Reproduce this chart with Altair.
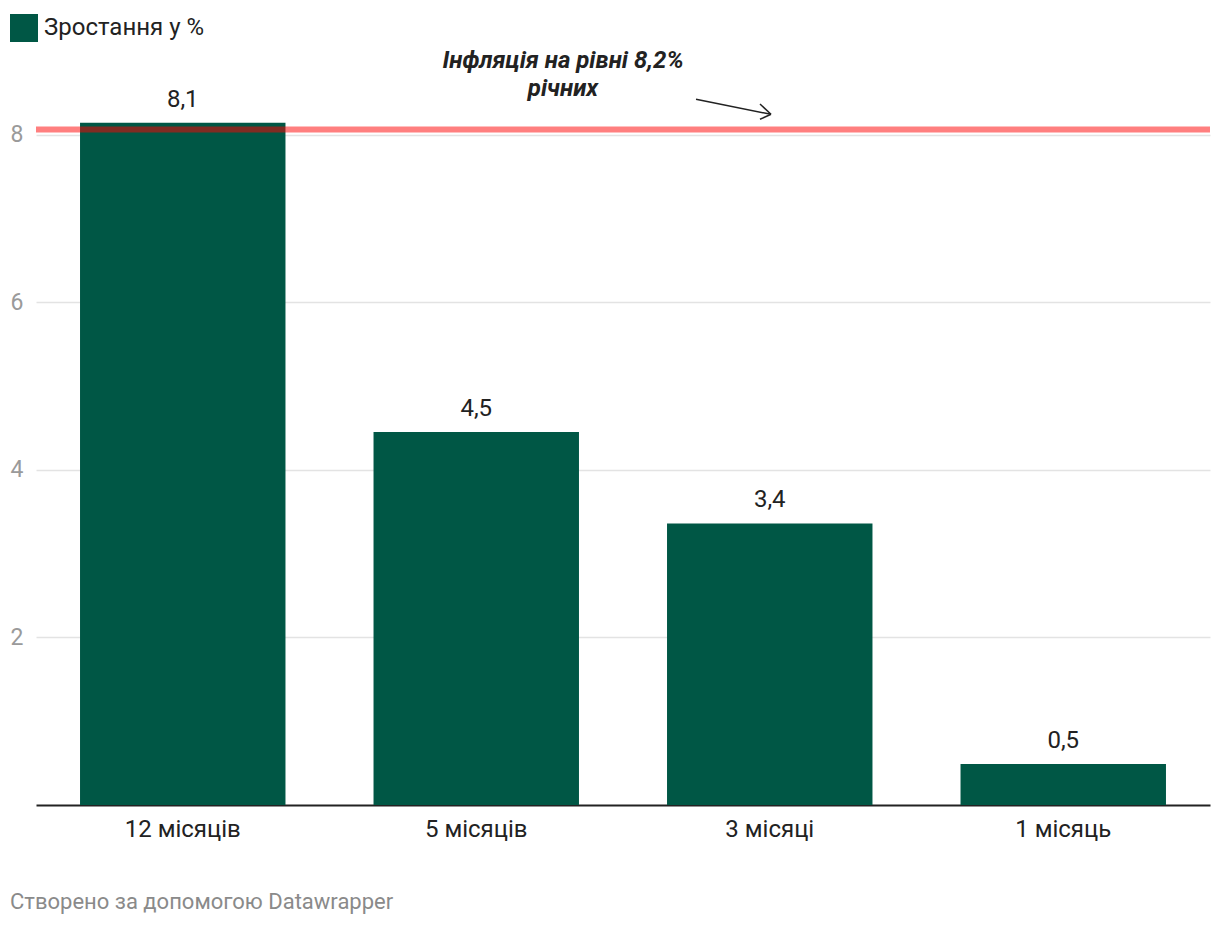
import altair as alt
import pandas as pd

# ---- data ----
categories = ["12 місяців", "5 місяців", "3 місяці", "1 місяць"]
values = [8.14, 4.45, 3.36, 0.49]
value_labels = ["8,1", "4,5", "3,4", "0,5"]
series_name = "Зростання у %"
inflation_line = 8.06
annotation_lines = ["Інфляція на рівні 8,2%", "річних"]
y_ticks = [2, 4, 6, 8]
footer_text = "Створено за допомогою Datawrapper"

BAR = "#005745"
TXT = "#222222"

df = pd.DataFrame({
    "category": categories,
    "value": values,
    "label": value_labels,
    "series": [series_name] * len(categories),
})

x_enc = alt.X(
    "category:N",
    sort=categories,
    scale=alt.Scale(paddingInner=0.3, paddingOuter=0.15),
    axis=alt.Axis(
        title=None, labelAngle=0, labelFontSize=24, labelColor=TXT,
        labelPadding=12, ticks=False, domainColor="#222222", domainWidth=2,
        grid=False,
    ),
)
y_enc = alt.Y(
    "value:Q",
    scale=alt.Scale(domain=[0, 8.4], nice=False, zero=True),
    axis=alt.Axis(
        title=None, values=y_ticks, format="d", labelFontSize=23,
        labelColor="#9a9a9a", labelPadding=13, ticks=False, domain=False,
        gridColor="#e3e3e3", gridWidth=1.5,
    ),
)

bars = alt.Chart(df).mark_bar(color=BAR).encode(
    x=x_enc,
    y=y_enc,
    color=alt.Color(
        "series:N",
        scale=alt.Scale(range=[BAR]),
        legend=alt.Legend(
            title=None, orient="none", legendX=-26, legendY=-87, padding=0,
            symbolType="square", symbolSize=784, symbolStrokeWidth=0,
            labelFontSize=24, labelColor=TXT, labelOffset=6, labelLimit=600,
        ),
    ),
)

bar_text = alt.Chart(df).mark_text(
    fontSize=24, color=TXT, baseline="alphabetic", dy=-16
).encode(
    x=alt.X("category:N", sort=categories),
    y=alt.Y("value:Q"),
    text="label:N",
)

ref_df = pd.DataFrame({"level": [inflation_line]})
red_line = alt.Chart(ref_df).mark_rule(
    color="#ff0000", opacity=0.5, strokeWidth=6
).encode(y=alt.Y("level:Q"))

annot = alt.Chart(pd.DataFrame({"a": [0]})).mark_text(
    fontSize=24, fontWeight="bold", fontStyle="italic", color=TXT,
    align="center", baseline="top", lineHeight=28,
).encode(
    x=alt.value(527), y=alt.value(-52), text=alt.value(annotation_lines)
)

def seg(x1, y1, x2, y2):
    return alt.Chart(pd.DataFrame({"a": [0]})).mark_rule(
        color=TXT, strokeWidth=1.5
    ).encode(
        x=alt.value(x1), y=alt.value(y1), x2=alt.value(x2), y2=alt.value(y2)
    )

arrow = [
    seg(660, -1.7, 735, 13.3),
    seg(724, 3, 735, 13.3),
    seg(724, 18.3, 735, 13.3),
]

footer = alt.Chart(pd.DataFrame({"a": [0]})).mark_text(
    fontSize=22, color="#8a8a8a", align="left", baseline="middle"
).encode(x=alt.value(-26), y=alt.value(801), text=alt.value(footer_text))

chart = alt.layer(bars, bar_text, red_line, annot, *arrow, footer).properties(
    width=1174,
    height=704,
    autosize=alt.AutoSizeParams(type="none"),
    padding={"left": 36, "top": 101, "right": 10, "bottom": 123},
).configure(font="Roboto").configure_view(stroke=None)

chart.save("out.html", embed_options={"renderer": "svg", "actions": False})
